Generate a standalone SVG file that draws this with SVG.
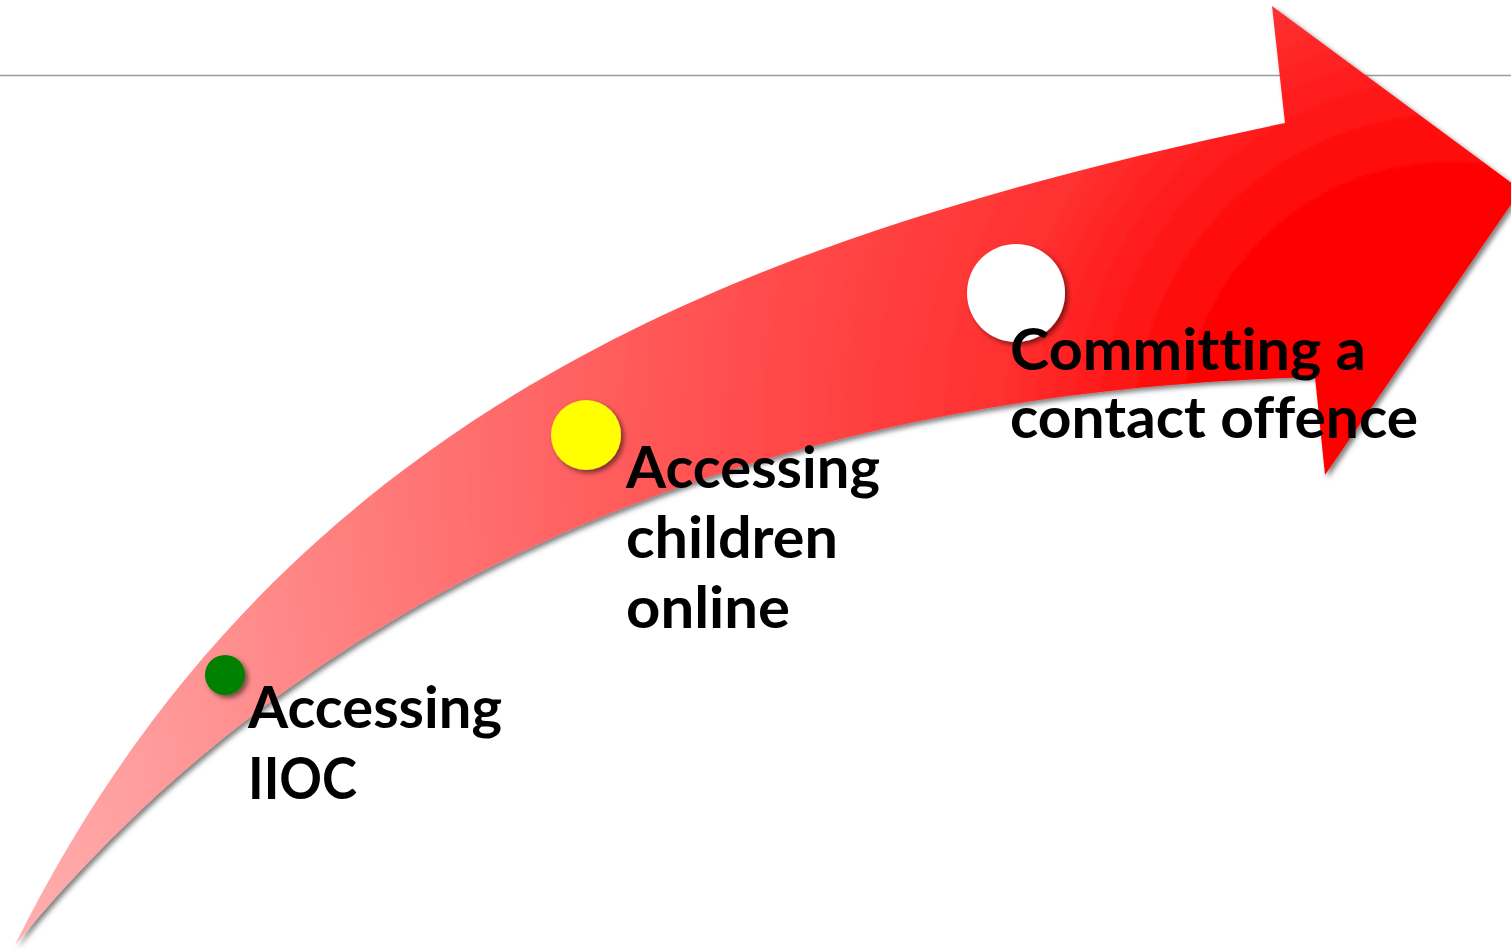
<svg xmlns="http://www.w3.org/2000/svg" width="1511" height="950" viewBox="0 0 1511 950">
  <defs>
    <radialGradient id="arrowGrad" gradientUnits="userSpaceOnUse" cx="1450" cy="430" r="1600">
      <stop offset="0" stop-color="#ff0000"/>
      <stop offset="0.15" stop-color="#ff0000"/>
      <stop offset="0.28" stop-color="#ff3030"/>
      <stop offset="0.5" stop-color="#ff5757"/>
      <stop offset="0.8" stop-color="#ff9494"/>
      <stop offset="1" stop-color="#ffb8b8"/>
    </radialGradient>
    <filter id="shadow" x="-10%" y="-10%" width="130%" height="130%">
      <feDropShadow dx="3" dy="3" stdDeviation="2.5" flood-color="#000" flood-opacity="0.5"/>
    </filter>
  </defs>
  <style>
    .label { font-family: Lato, "Liberation Sans", sans-serif; font-weight: bold; font-size: 58px; fill: #000; font-variant-ligatures: none; }
    .dot { filter: url(#shadow); }
  </style>
  <rect width="1511" height="950" fill="#fff"/>
  <line x1="0" y1="75.5" x2="1511" y2="75.5" stroke="#9a9a9a" stroke-width="1.5"/>
  <g id="arrow">
    <path d="M15,945 C290,390 780,230 1285,123 L1272,6 L1521,190 L1325,475 L1315,377 C800,390 330,560 15,945 Z" fill="url(#arrowGrad)" filter="url(#shadow)"/>
  </g>
  <g id="connectors"></g>
  <g id="node-iioc">
    <circle class="dot" cx="225" cy="675" r="20" fill="#008000"/>
    <text class="label" x="248" y="728" textLength="254" lengthAdjust="spacingAndGlyphs">Accessing</text>
    <text class="label" x="248" y="799" textLength="109" lengthAdjust="spacingAndGlyphs">IIOC</text>
  </g>
  <g id="node-children">
    <circle class="dot" cx="586" cy="435" r="35" fill="#ffff00"/>
    <text class="label" x="626" y="488" textLength="254" lengthAdjust="spacingAndGlyphs">Accessing</text>
    <text class="label" x="626" y="558" textLength="212" lengthAdjust="spacingAndGlyphs">children</text>
    <text class="label" x="626" y="628" textLength="164" lengthAdjust="spacingAndGlyphs">online</text>
  </g>
  <g id="node-contact">
    <circle class="dot" cx="1016" cy="293" r="49" fill="#ffffff"/>
    <text class="label" x="1010" y="370" textLength="356" lengthAdjust="spacingAndGlyphs">Committing a</text>
    <text class="label" x="1010" y="438" textLength="408" lengthAdjust="spacingAndGlyphs">contact offence</text>
  </g>
</svg>
